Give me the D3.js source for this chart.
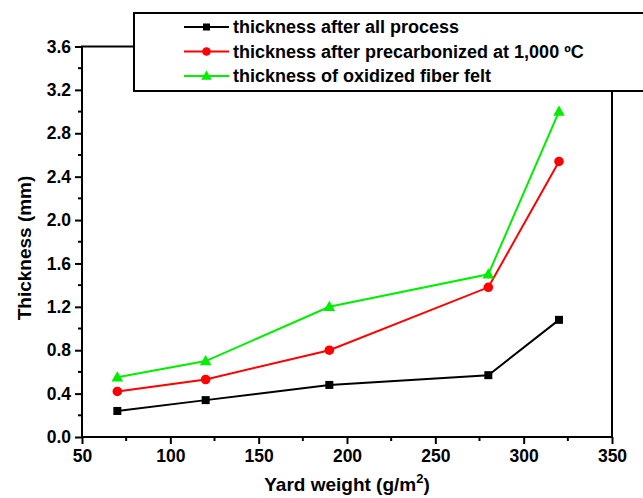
<!DOCTYPE html>
<html>
<head>
<meta charset="utf-8">
<script src="https://cdn.jsdelivr.net/npm/d3@7"></script>
<style>
  body { margin: 0; background: #fff; }
  svg { display: block; font-family: "Liberation Sans", Arial, sans-serif; font-weight: bold; }
</style>
</head>
<body>
<div id="svg-container"></div>
<script>
// data
const yardWeight = [70, 120, 190, 280, 320]
const afterAllProcess = [0.24, 0.34, 0.48, 0.57, 1.08]
const afterPrecarbonized = [0.42, 0.53, 0.80, 1.38, 2.54]
const oxidizedFelt = [0.55, 0.70, 1.20, 1.50, 3.00]
const xTicks = [50, 100, 150, 200, 250, 300, 350]
const yTicks = [0.0, 0.4, 0.8, 1.2, 1.6, 2.0, 2.4, 2.8, 3.2, 3.6]

const series = [
    { name: 'thickness after all process', values: afterAllProcess, color: '#000000', shape: 'square' },
    { name: 'thickness after precarbonized at 1,000 ºC', values: afterPrecarbonized, color: '#ff0000', shape: 'circle' },
    { name: 'thickness of oxidized fiber felt', values: oxidizedFelt, color: '#00ee00', shape: 'triangle' }
]

const width = 643
const height = 498
const margin = { top: 46.5, right: 31, bottom: 61, left: 82 }
const innerWidth = width - margin.left - margin.right
const innerHeight = height - margin.top - margin.bottom

const svg = d3.select('#svg-container').append('svg')
    .attr('width', width).attr('height', height)

const xScale = d3.scaleLinear().domain([50, 350]).range([0, innerWidth])
const yScale = d3.scaleLinear().domain([0, 3.6]).range([innerHeight, 0])

const g = svg.append('g')
    .attr('transform', `translate(${margin.left}, ${margin.top})`)

// frame
g.append('rect')
    .attr('width', innerWidth).attr('height', innerHeight)
    .attr('fill', 'none').attr('stroke', '#000').attr('stroke-width', 2)

// minor ticks
const xMinor = d3.range(75, 350, 50)
const yMinor = d3.range(0.2, 3.6, 0.4)
g.append('g').selectAll('line').data(xMinor).enter().append('line')
    .attr('x1', d => xScale(d)).attr('x2', d => xScale(d))
    .attr('y1', innerHeight).attr('y2', innerHeight + 4)
    .attr('stroke', '#000').attr('stroke-width', 2)
g.append('g').selectAll('line').data(yMinor).enter().append('line')
    .attr('y1', d => yScale(d)).attr('y2', d => yScale(d))
    .attr('x1', 0).attr('x2', -4)
    .attr('stroke', '#000').attr('stroke-width', 2)

// axes
const xAxis = g.append('g')
    .attr('transform', `translate(0, ${innerHeight})`)
    .call(d3.axisBottom(xScale).tickValues(xTicks).tickSize(7).tickPadding(6).tickFormat(d3.format('d')))
const yAxis = g.append('g')
    .call(d3.axisLeft(yScale).tickValues(yTicks).tickSize(7).tickPadding(4).tickFormat(d3.format('.1f')))

for (const ax of [xAxis, yAxis]) {
    ax.select('.domain').remove()
    ax.selectAll('.tick line').attr('stroke-width', 2)
    ax.selectAll('text').attr('font-size', 17.5).attr('font-weight', 'bold')
        .attr('font-family', '"Liberation Sans", Arial, sans-serif').attr('fill', '#000')
}

// axis titles
svg.append('text')
    .attr('x', margin.left + innerWidth / 2).attr('y', 491)
    .attr('text-anchor', 'middle').attr('font-size', 19)
    .html('Yard weight (g/m<tspan dy="-8" font-size="13">2</tspan><tspan dy="8">)</tspan>')
svg.append('text')
    .attr('transform', `translate(31, 248) rotate(-90)`)
    .attr('text-anchor', 'middle').attr('font-size', 19)
    .text('Thickness (mm)')

// lines and markers
const line = d3.line()
    .x((d, i) => xScale(yardWeight[i]))
    .y(d => yScale(d))

function drawMarker(sel, shape, color, size) {
    if (shape === 'square') {
        sel.append('rect').attr('x', -size / 2).attr('y', -size / 2)
            .attr('width', size).attr('height', size).attr('fill', color)
    } else if (shape === 'circle') {
        sel.append('circle').attr('r', size / 2 + 0.8).attr('fill', color)
    } else {
        const s = size + 2
        sel.append('path')
            .attr('d', `M0,${-s * 0.6}L${s * 0.58},${s * 0.42}L${-s * 0.58},${s * 0.42}Z`)
            .attr('fill', color)
    }
}

series.forEach(s => {
    g.append('path').datum(s.values)
        .attr('d', line).attr('fill', 'none')
        .attr('stroke', s.color).attr('stroke-width', 2)
    g.append('g').selectAll('g').data(s.values).enter().append('g')
        .attr('transform', (d, i) => `translate(${xScale(yardWeight[i])}, ${yScale(d)})`)
        .each(function () { drawMarker(d3.select(this), s.shape, s.color, 8) })
})

// legend
const legend = svg.append('g')
legend.append('rect')
    .attr('x', 134).attr('y', 13).attr('width', 520).attr('height', 78)
    .attr('fill', '#fff').attr('stroke', '#000').attr('stroke-width', 2)
series.forEach((s, i) => {
    const y = 27 + i * 24.5
    legend.append('line')
        .attr('x1', 184).attr('x2', 229).attr('y1', y).attr('y2', y)
        .attr('stroke', s.color).attr('stroke-width', 2)
    const m = legend.append('g').attr('transform', `translate(206.5, ${y})`)
    drawMarker(m, s.shape, s.color, 7)
    legend.append('text')
        .attr('x', 233).attr('y', y + 6)
        .attr('font-size', 18).attr('fill', '#000')
        .text(s.name)
})
</script>
</body>
</html>
